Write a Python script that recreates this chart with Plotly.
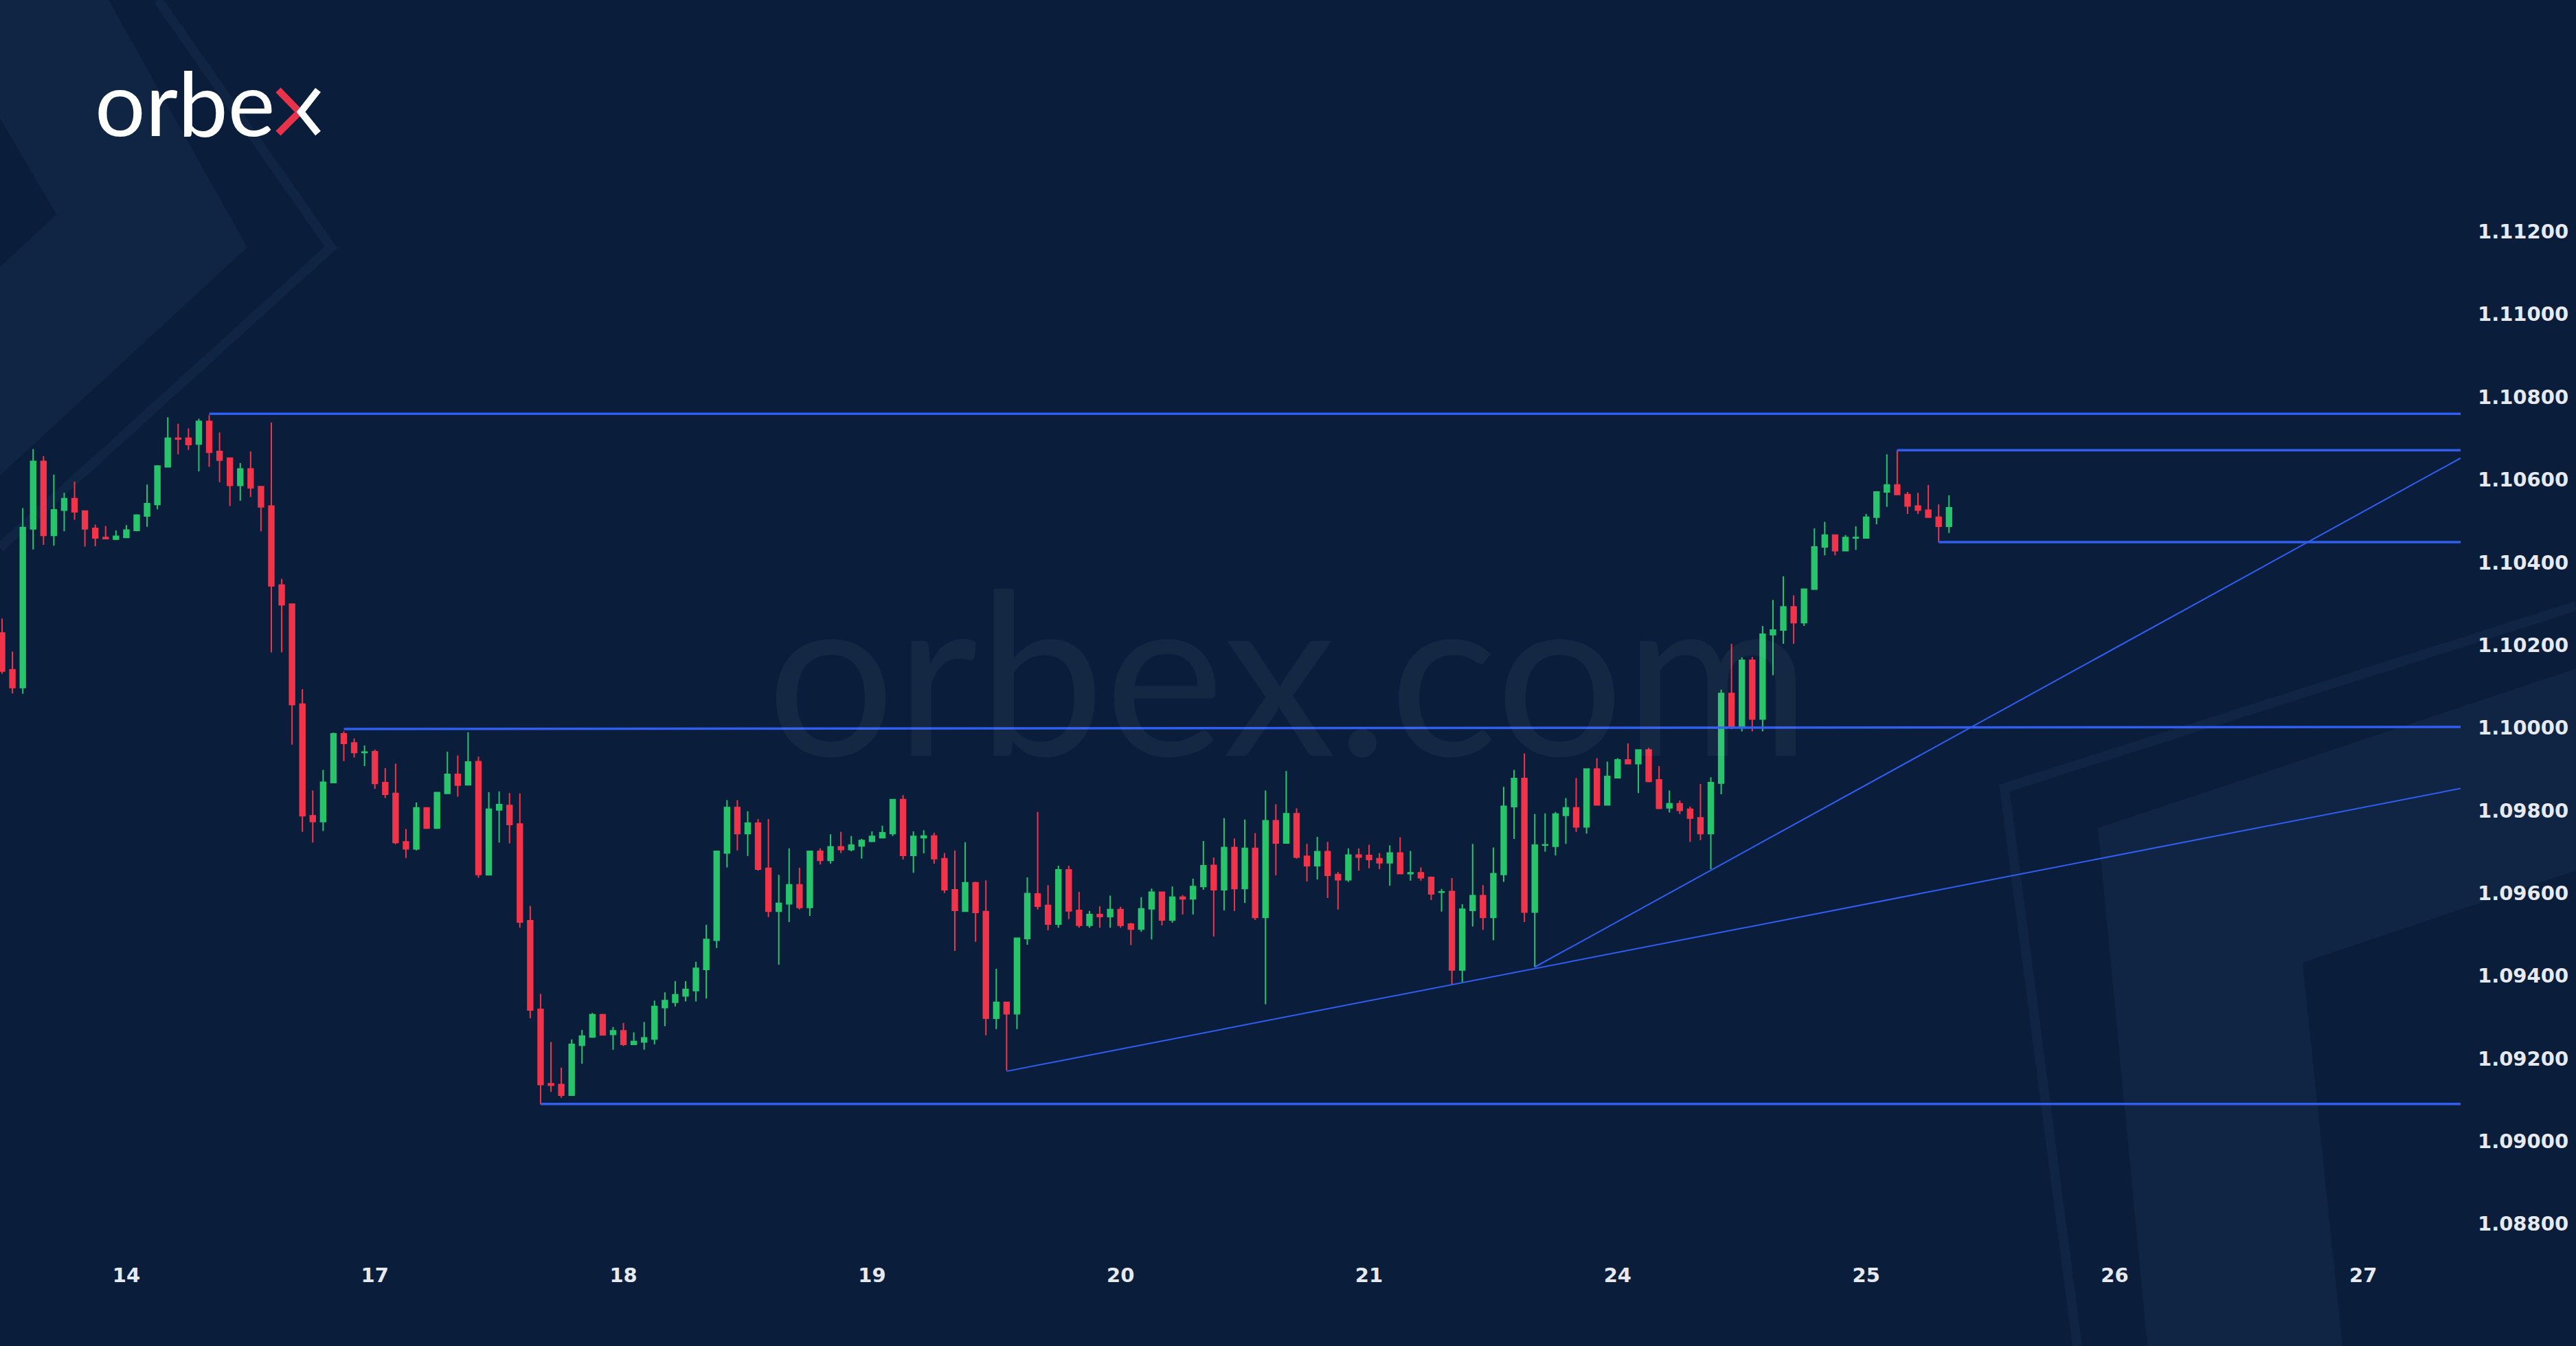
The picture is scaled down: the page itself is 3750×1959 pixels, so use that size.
import plotly.graph_objects as go

# EURUSD H1 bars, index 0 = first bar of the 14th
first_bar = -12
opens = [
    1.10229, 1.10140, 1.10097, 1.10481, 1.10644, 1.10465, 1.10526, 1.10554, 1.10524, 1.10482, 1.10460, 1.10456,
    1.10460, 1.10477, 1.10512, 1.10540, 1.10631, 1.10700, 1.10700, 1.10686, 1.10741, 1.10668, 1.10652, 1.10586,
    1.10626, 1.10583, 1.10536, 1.10345, 1.10299, 1.10057, 1.09787, 1.09773, 1.09867, 1.09985, 1.09963, 1.09940,
    1.09942, 1.09867, 1.09841, 1.09724, 1.09707, 1.09806, 1.09757, 1.09841, 1.09887, 1.09862, 1.09918, 1.09644,
    1.09801, 1.09812, 1.09767, 1.09533, 1.09319, 1.09139, 1.09137, 1.09111, 1.09232, 1.09252, 1.09306, 1.09258,
    1.09267, 1.09234, 1.09240, 1.09247, 1.09323, 1.09336, 1.09351, 1.09364, 1.09415, 1.09486, 1.09697, 1.09807,
    1.09744, 1.09769, 1.09660, 1.09556, 1.09574, 1.09620, 1.09565, 1.09701, 1.09679, 1.09712, 1.09705, 1.09714,
    1.09725, 1.09734, 1.09744, 1.09826, 1.09691, 1.09734, 1.09738, 1.09683, 1.09608, 1.09556, 1.09625, 1.09555,
    1.09297, 1.09336, 1.09308, 1.09490, 1.09598, 1.09570, 1.09525, 1.09656, 1.09558, 1.09522, 1.09548, 1.09543,
    1.09560, 1.09525, 1.09513, 1.09562, 1.09602, 1.09535, 1.09590, 1.09586, 1.09616, 1.09667, 1.09608, 1.09710,
    1.09611, 1.09708, 1.09541, 1.09775, 1.09721, 1.09792, 1.09689, 1.09666, 1.09700, 1.09645, 1.09632, 1.09692,
    1.09691, 1.09683, 1.09673, 1.09697, 1.09647, 1.09649, 1.09638, 1.09602, 1.09604, 1.09414, 1.09558, 1.09594,
    1.09541, 1.09645, 1.09809, 1.09877, 1.09554, 1.09716, 1.09713, 1.09788, 1.09806, 1.09760, 1.09900, 1.09813,
    1.09879, 1.09922, 1.09913, 1.09946, 1.09874, 1.09806, 1.09816, 1.09803, 1.09782, 1.09744, 1.09866, 1.10083,
    1.10000, 1.10163, 1.10021, 1.10225, 1.10236, 1.10292, 1.10254, 1.10335, 1.10437, 1.10466, 1.10428, 1.10459,
    1.10459, 1.10509, 1.10570, 1.10587, 1.10564, 1.10536, 1.10526, 1.10509, 1.10487,
]
highs = [
    1.10264, 1.10184, 1.10531, 1.10674, 1.10657, 1.10612, 1.10568, 1.10595, 1.10525, 1.10491, 1.10488, 1.10477,
    1.10490, 1.10516, 1.10588, 1.10635, 1.10751, 1.10735, 1.10724, 1.10747, 1.10756, 1.10714, 1.10652, 1.10640,
    1.10668, 1.10583, 1.10738, 1.10360, 1.10299, 1.10093, 1.09848, 1.09898, 1.09988, 1.09991, 1.09974, 1.09957,
    1.09947, 1.09902, 1.09913, 1.09755, 1.09819, 1.09807, 1.09843, 1.09942, 1.09933, 1.09989, 1.09930, 1.09844,
    1.09846, 1.09842, 1.09841, 1.09569, 1.09356, 1.09240, 1.09178, 1.09246, 1.09269, 1.09310, 1.09308, 1.09276,
    1.09286, 1.09263, 1.09288, 1.09340, 1.09360, 1.09387, 1.09387, 1.09434, 1.09523, 1.09701, 1.09825, 1.09825,
    1.09798, 1.09779, 1.09779, 1.09644, 1.09708, 1.09661, 1.09701, 1.09708, 1.09742, 1.09748, 1.09738, 1.09731,
    1.09749, 1.09763, 1.09826, 1.09837, 1.09749, 1.09752, 1.09746, 1.09697, 1.09703, 1.09723, 1.09627, 1.09631,
    1.09417, 1.09336, 1.09491, 1.09638, 1.09796, 1.09619, 1.09666, 1.09666, 1.09603, 1.09557, 1.09568, 1.09594,
    1.09567, 1.09528, 1.09590, 1.09611, 1.09602, 1.09616, 1.09595, 1.09635, 1.09726, 1.09686, 1.09781, 1.09732,
    1.09778, 1.09745, 1.09848, 1.09815, 1.09895, 1.09805, 1.09719, 1.09736, 1.09724, 1.09651, 1.09708, 1.09708,
    1.09717, 1.09697, 1.09715, 1.09735, 1.09702, 1.09662, 1.09640, 1.09610, 1.09636, 1.09573, 1.09719, 1.09619,
    1.09710, 1.09857, 1.09898, 1.09938, 1.09791, 1.09793, 1.09796, 1.09830, 1.09878, 1.09900, 1.09926, 1.09918,
    1.09926, 1.09962, 1.09946, 1.09951, 1.09907, 1.09848, 1.09824, 1.09809, 1.09864, 1.09880, 1.10092, 1.10203,
    1.10170, 1.10171, 1.10246, 1.10309, 1.10366, 1.10320, 1.10335, 1.10482, 1.10498, 1.10466, 1.10466, 1.10487,
    1.10517, 1.10570, 1.10661, 1.10671, 1.10570, 1.10568, 1.10587, 1.10540, 1.10562,
]
lows = [
    1.10130, 1.10083, 1.10082, 1.10431, 1.10442, 1.10440, 1.10475, 1.10503, 1.10438, 1.10439, 1.10456, 1.10454,
    1.10459, 1.10475, 1.10486, 1.10528, 1.10630, 1.10661, 1.10672, 1.10620, 1.10631, 1.10594, 1.10536, 1.10549,
    1.10558, 1.10475, 1.10182, 1.10182, 1.09959, 1.09748, 1.09722, 1.09750, 1.09866, 1.09919, 1.09928, 1.09907,
    1.09852, 1.09830, 1.09718, 1.09685, 1.09703, 1.09755, 1.09755, 1.09840, 1.09833, 1.09860, 1.09637, 1.09644,
    1.09722, 1.09720, 1.09516, 1.09297, 1.09089, 1.09119, 1.09105, 1.09110, 1.09187, 1.09250, 1.09256, 1.09221,
    1.09230, 1.09234, 1.09221, 1.09234, 1.09278, 1.09326, 1.09338, 1.09338, 1.09345, 1.09467, 1.09662, 1.09703,
    1.09690, 1.09654, 1.09542, 1.09427, 1.09530, 1.09560, 1.09545, 1.09669, 1.09671, 1.09697, 1.09701, 1.09683,
    1.09723, 1.09732, 1.09738, 1.09681, 1.09649, 1.09696, 1.09671, 1.09600, 1.09460, 1.09556, 1.09482, 1.09256,
    1.09271, 1.09171, 1.09271, 1.09475, 1.09560, 1.09510, 1.09516, 1.09537, 1.09516, 1.09516, 1.09516, 1.09516,
    1.09516, 1.09474, 1.09506, 1.09488, 1.09522, 1.09528, 1.09548, 1.09548, 1.09608, 1.09495, 1.09558, 1.09557,
    1.09576, 1.09535, 1.09331, 1.09643, 1.09720, 1.09683, 1.09628, 1.09633, 1.09588, 1.09560, 1.09627, 1.09654,
    1.09660, 1.09658, 1.09618, 1.09646, 1.09630, 1.09630, 1.09583, 1.09555, 1.09378, 1.09384, 1.09519, 1.09511,
    1.09486, 1.09627, 1.09731, 1.09530, 1.09421, 1.09700, 1.09691, 1.09719, 1.09748, 1.09744, 1.09813, 1.09813,
    1.09879, 1.09912, 1.09842, 1.09868, 1.09803, 1.09795, 1.09791, 1.09724, 1.09728, 1.09658, 1.09839, 1.09996,
    1.09991, 1.09991, 1.09991, 1.10127, 1.10203, 1.10203, 1.10246, 1.10335, 1.10417, 1.10417, 1.10428, 1.10430,
    1.10459, 1.10492, 1.10534, 1.10564, 1.10517, 1.10517, 1.10509, 1.10449, 1.10471,
]
closes = [
    1.10137, 1.10097, 1.10484, 1.10644, 1.10465, 1.10527, 1.10554, 1.10522, 1.10481, 1.10459, 1.10457, 1.10463,
    1.10478, 1.10514, 1.10542, 1.10633, 1.10700, 1.10698, 1.10685, 1.10741, 1.10666, 1.10647, 1.10586, 1.10626,
    1.10580, 1.10534, 1.10343, 1.10297, 1.10056, 1.09787, 1.09773, 1.09868, 1.09985, 1.09962, 1.09940, 1.09941,
    1.09865, 1.09839, 1.09722, 1.09707, 1.09806, 1.09757, 1.09843, 1.09887, 1.09861, 1.09917, 1.09645, 1.09803,
    1.09814, 1.09766, 1.09530, 1.09317, 1.09137, 1.09135, 1.09111, 1.09234, 1.09254, 1.09306, 1.09257, 1.09267,
    1.09234, 1.09241, 1.09250, 1.09326, 1.09340, 1.09354, 1.09367, 1.09418, 1.09488, 1.09701, 1.09807, 1.09744,
    1.09769, 1.09658, 1.09556, 1.09575, 1.09620, 1.09565, 1.09701, 1.09679, 1.09712, 1.09705, 1.09716, 1.09727,
    1.09737, 1.09746, 1.09826, 1.09691, 1.09737, 1.09738, 1.09683, 1.09608, 1.09558, 1.09625, 1.09553, 1.09297,
    1.09336, 1.09308, 1.09491, 1.09599, 1.09568, 1.09525, 1.09656, 1.09557, 1.09522, 1.09548, 1.09543, 1.09560,
    1.09522, 1.09513, 1.09562, 1.09602, 1.09535, 1.09590, 1.09586, 1.09616, 1.09666, 1.09608, 1.09710, 1.09611,
    1.09708, 1.09541, 1.09775, 1.09721, 1.09792, 1.09687, 1.09666, 1.09700, 1.09643, 1.09632, 1.09692, 1.09687,
    1.09681, 1.09673, 1.09697, 1.09647, 1.09649, 1.09637, 1.09598, 1.09603, 1.09414, 1.09561, 1.09594, 1.09541,
    1.09647, 1.09810, 1.09877, 1.09554, 1.09716, 1.09717, 1.09791, 1.09806, 1.09760, 1.09900, 1.09813, 1.09882,
    1.09922, 1.09913, 1.09946, 1.09870, 1.09805, 1.09816, 1.09800, 1.09781, 1.09744, 1.09867, 1.10083, 1.10000,
    1.10163, 1.10021, 1.10226, 1.10236, 1.10292, 1.10254, 1.10335, 1.10437, 1.10466, 1.10428, 1.10460, 1.10460,
    1.10509, 1.10570, 1.10587, 1.10564, 1.10536, 1.10526, 1.10509, 1.10487, 1.10532,
]
bars = list(range(first_bar, first_bar + len(closes)))

# day labels on the first bar of each day
day_bars = [0, 24, 48, 72, 96, 120, 144, 168, 192, 216]
day_labels = ["14", "17", "18", "19", "20", "21", "24", "25", "26", "27"]
price_ticks = [1.088, 1.090, 1.092, 1.094, 1.096, 1.098, 1.100, 1.102, 1.104, 1.106, 1.108, 1.110, 1.112]

# drawn levels: start bar, start price, end price
level_start = [8, 171, 175, 21, 40]
level_price_a = [1.10759, 1.10671, 1.10449, 1.09997, 1.09090]
level_price_b = [1.10759, 1.10671, 1.10449, 1.10002, 1.09090]
# trend lines: anchor bar, anchor price, end price
trend_start = [85, 136]
trend_price_a = [1.09169, 1.09421]
trend_price_b = [1.09853, 1.10652]
line_end_bar = 225.4

BG = "#0a1e3b"
GREEN = "#27c46c"
RED = "#f1344a"
BLUE = "#2f5ef0"

W, H = 3750, 1959
ML, MR, MT, MB = 0, 168, 0, 139
PW, PH = W - ML - MR, H - MT - MB


def px(x):
    return (x - ML) / PW


def py(y):
    return 1 - (y - MT) / PH


def path(points, close=False):
    s = "M " + " L ".join(f"{px(x):.5f},{py(y):.5f}" for x, y in points)
    return s + (" Z" if close else "")


fig = go.Figure()

fig.add_trace(go.Candlestick(
    x=bars, open=opens, high=highs, low=lows, close=closes,
    increasing=dict(line=dict(color=GREEN, width=2), fillcolor=GREEN),
    decreasing=dict(line=dict(color=RED, width=2), fillcolor=RED),
    whiskerwidth=0, showlegend=False, hoverinfo="skip",
))

for s, a, b in zip(level_start, level_price_a, level_price_b):
    fig.add_trace(go.Scatter(x=[s, line_end_bar], y=[a, b], mode="lines",
                             line=dict(color=BLUE, width=3.5), showlegend=False, hoverinfo="skip"))
for s, a, b in zip(trend_start, trend_price_a, trend_price_b):
    fig.add_trace(go.Scatter(x=[s, line_end_bar], y=[a, b], mode="lines",
                             line=dict(color=BLUE, width=2), showlegend=False, hoverinfo="skip"))

# background chevrons
deco = [
    dict(type="path", path=path([(0, 0), (158, 0), (360, 360), (0, 692)], True),
         fillcolor="#0f2543", line=dict(width=0)),
    dict(type="path", path=path([(0, 172), (82, 312), (0, 389)], True),
         fillcolor=BG, line=dict(width=0)),
    dict(type="path", path=path([(230, 0), (482, 360), (0, 797)]),
         line=dict(color="#0f2543", width=14)),
    dict(type="path", path=path([(3750, 973), (3054, 1205), (3126, 1959), (3410, 1959), (3352, 1401), (3750, 1267)], True),
         fillcolor="#0f2543", line=dict(width=0)),
    dict(type="path", path=path([(3750, 882), (2918, 1147), (3024, 1959)]),
         line=dict(color="#0f2543", width=14)),
]
for d in deco:
    fig.add_shape(xref="paper", yref="paper", layer="below", **d)

# logo "x" strokes
fig.add_shape(type="path", xref="paper", yref="paper", path=path([(405, 131), (436, 163), (405, 194)]),
              line=dict(color="#e8334a", width=10))
fig.add_shape(type="path", xref="paper", yref="paper", path=path([(463, 131), (438, 163), (463, 194)]),
              line=dict(color="white", width=10))

fig.add_annotation(xref="paper", yref="paper", x=px(136), y=py(228), xanchor="left", yanchor="bottom",
                   text="orbe", showarrow=False,
                   font=dict(family="Lato", size=130, color="white"))
fig.add_annotation(xref="paper", yref="paper", x=px(1876), y=py(1172), xanchor="center", yanchor="bottom",
                   text="orbex.com", showarrow=False,
                   font=dict(family="Lato", size=330, color="rgba(255,255,255,0.045)"))

tick_font = dict(family="DejaVu Sans", size=29, color="#e6e9ef", weight="bold")

fig.update_layout(
    width=W, height=H,
    margin=dict(l=ML, r=MR, t=MT, b=MB),
    paper_bgcolor=BG, plot_bgcolor="rgba(0,0,0,0)",
    showlegend=False,
    xaxis=dict(range=[-12.2, 225.4], tickvals=day_bars, ticktext=day_labels,
               showgrid=False, zeroline=False, showline=False, ticks="",
               rangeslider=dict(visible=False), ticklabelstandoff=16,
               tickfont=tick_font),
    yaxis=dict(range=[1.087355, 1.1176], side="right", tickvals=price_ticks, tickformat=".5f",
               showgrid=False, zeroline=False, showline=False, ticks="", ticklabelstandoff=24,
               tickfont=tick_font),
)

fig.write_html("out.html", config={"displayModeBar": False},
               post_script="document.body.style.margin='0';document.body.style.background='#0a1e3b';")
